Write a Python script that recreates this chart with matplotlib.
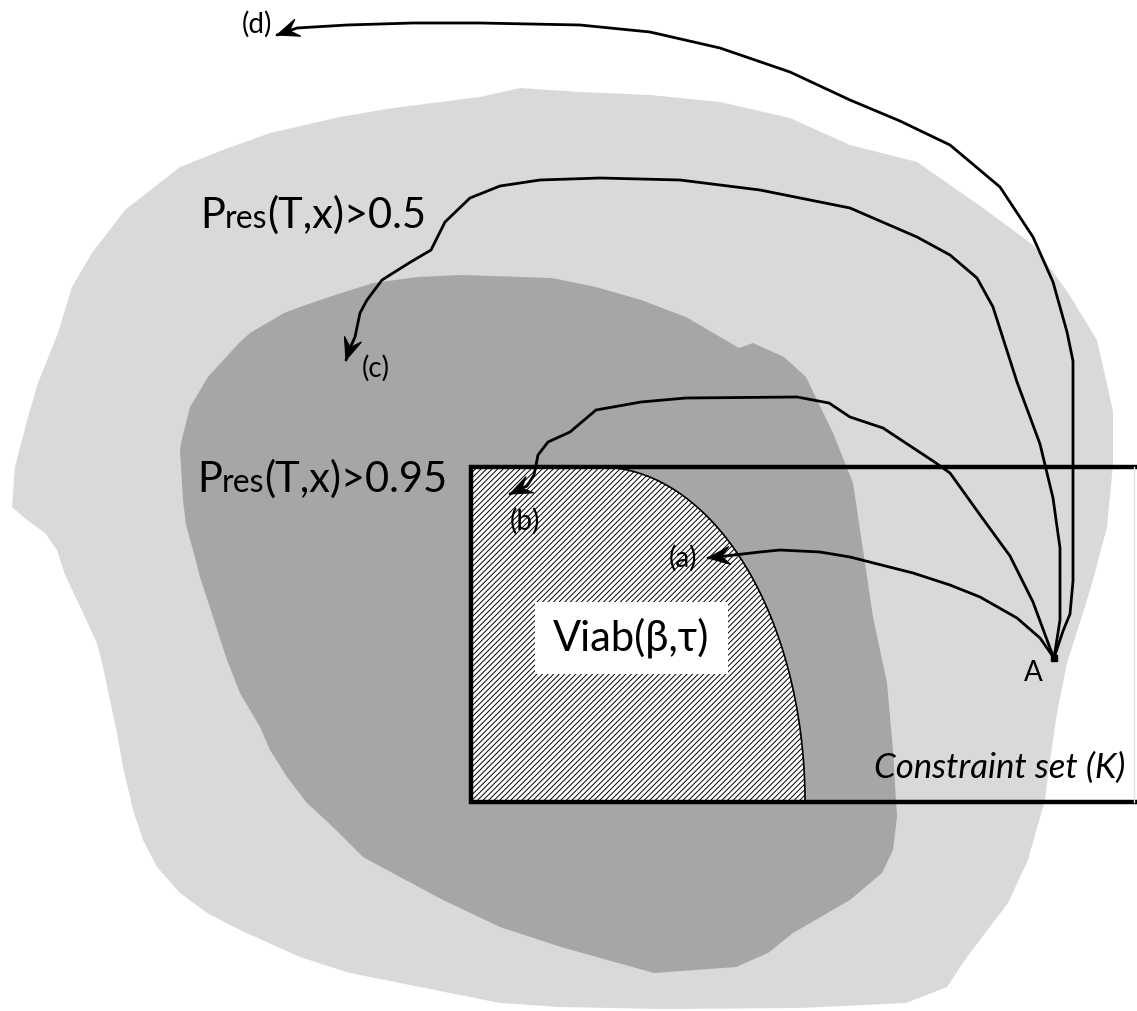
import matplotlib
matplotlib.use('Agg')
import matplotlib.pyplot as plt
import numpy as np
from matplotlib.patches import Polygon, Rectangle

W, H = 1137, 1011
FONT = ['Lato', 'DejaVu Sans']
plt.rcParams['font.family'] = FONT
plt.rcParams['hatch.linewidth'] = 0.7

# ---- region outlines (pixel coordinates of the diagram) ----
light_x = [520, 580, 650, 720, 790, 850, 917, 983, 1033, 1067, 1097, 1113, 1113, 1107, 1093, 1083,
           1067, 1057, 1050, 1045, 1035, 1028, 1008, 967, 947, 906, 800, 663, 560, 500, 450, 400,
           350, 300, 240, 207, 180, 157, 143, 133, 123, 117, 110, 103, 97, 77, 65, 57, 45, 27, 12,
           15, 28, 38, 58, 72, 92, 125, 180, 223, 270, 340, 393, 480]
light_y = [88, 92, 95, 102, 118, 145, 162, 208, 245, 291, 340, 411, 465, 527, 580, 613,
           663, 713, 760, 800, 835, 860, 903, 957, 987, 1003, 1008, 1009, 1007, 1003, 993, 983,
           973, 957, 930, 913, 893, 867, 840, 810, 767, 733, 700, 667, 643, 600, 575, 550, 533, 520, 507,
           467, 417, 383, 333, 287, 253, 210, 167, 150, 133, 117, 108, 97]

dark_x = [462, 552, 596, 641, 686, 739, 753, 784, 806, 833, 853, 863, 873, 887, 893, 897, 893,
          882, 850, 793, 768, 736, 654, 561, 500, 443, 400, 363, 333, 307, 287, 270, 260, 240,
          227, 213, 200, 193, 186, 183, 180, 181, 190, 208, 217, 239, 250, 284, 300, 329, 373, 418]
dark_y = [275, 278, 287, 300, 317, 348, 343, 357, 377, 433, 483, 550, 617, 683, 750, 817, 850,
          873, 900, 933, 953, 967, 973, 947, 927, 900, 877, 857, 827, 803, 777, 750, 727, 693,
          660, 617, 577, 550, 525, 500, 450, 443, 407, 377, 367, 343, 333, 313, 307, 297, 283, 277]

# constraint set K (open to the right)
K_left, K_top, K_bottom = 471, 467, 802
# viability kernel boundary: quarter ellipse
viab_cx, viab_cy, viab_a, viab_b = 600, 802, 205, 335

# trajectories from A
curve_a_x = [1054, 1040, 1017, 980, 950, 913, 850, 820, 780, 760, 708]
curve_a_y = [658, 638, 618, 597, 585, 573, 557, 552, 550, 552, 558]
curve_b_x = [1054, 1050, 1033, 1010, 983, 950, 933, 883, 850, 829, 797, 686, 641, 596, 570, 548, 538, 534, 527, 510]
curve_b_y = [658, 648, 602, 556, 519, 473, 461, 428, 417, 403, 397, 398, 402, 410, 432, 442, 455, 475, 486, 494]
curve_c_x = [1054, 1060, 1060, 1053, 1040, 1017, 993, 977, 950, 917, 850, 760, 680, 600, 540, 500, 470, 445,
             431, 409, 382, 367, 360, 355, 350, 346]
curve_c_y = [658, 620, 548, 498, 444, 382, 307, 278, 255, 237, 208, 190, 180, 178, 180, 186, 198, 222,
             250, 263, 280, 300, 313, 337, 348, 360]
curve_d_x = [1054, 1063, 1070, 1073, 1073, 1073, 1067, 1053, 1033, 1000, 950, 900, 850, 790, 720, 650, 580,
             480, 413, 347, 297, 277]
curve_d_y = [658, 631, 614, 581, 465, 361, 332, 282, 237, 187, 145, 121, 100, 72, 48, 32, 25,
             23, 23, 25, 28, 35]

point_A = (1054, 658)

fig = plt.figure(figsize=(W / 100, H / 100), dpi=100)
ax = fig.add_axes([0, 0, 1, 1])
ax.set_xlim(0, W)
ax.set_ylim(H, 0)
ax.axis('off')

ax.fill(light_x, light_y, color='#d9d9d9', lw=0, zorder=1)
ax.fill(dark_x, dark_y, color='#a6a6a6', lw=0, zorder=2)

# viab region
t = np.linspace(0, np.pi / 2, 120)
arc_x = viab_cx + viab_a * np.sin(t)
arc_y = viab_cy - viab_b * np.cos(t)
poly_x = np.concatenate([[K_left], arc_x, [K_left]])
poly_y = np.concatenate([[K_top], arc_y, [K_bottom]])
ax.add_patch(Polygon(np.column_stack([poly_x, poly_y]), closed=True, facecolor='white',
                     edgecolor='black', hatch='//////', lw=0, zorder=3))
ax.plot(arc_x, arc_y, color='black', lw=1.2, zorder=4)

# white label box
ax.add_patch(Rectangle((535, 602), 193, 72, facecolor='white', edgecolor='none', zorder=5))

# K rectangle
ax.plot([W + 5, K_left, K_left, W + 5], [K_top, K_top, K_bottom, K_bottom], color='black', lw=3.2,
        solid_joinstyle='miter', zorder=6)
ax.plot([1134, 1134], [K_top, K_bottom], color='#e2e2e2', lw=1, zorder=6)


def head(xs, ys, L=22, Wd=9):
    tip = np.array([xs[-1], ys[-1]], float)
    prev = np.array([xs[-2], ys[-2]], float)
    d = tip - prev
    d /= np.linalg.norm(d)
    n = np.array([-d[1], d[0]])
    pts = [tip, tip - L * d + Wd * n, tip - 0.6 * L * d, tip - L * d - Wd * n]
    ax.add_patch(Polygon(pts, closed=True, facecolor='black', edgecolor='black', lw=0.8, zorder=8))


for xs, ys in [(curve_a_x, curve_a_y), (curve_b_x, curve_b_y), (curve_c_x, curve_c_y), (curve_d_x, curve_d_y)]:
    ax.plot(xs, ys, color='black', lw=2.0, solid_joinstyle='round', solid_capstyle='round', zorder=7)
    head(xs, ys)

ax.plot([point_A[0]], [point_A[1]], marker='s', ms=5, color='black', zorder=9)

# labels
lab = dict(fontsize=20, ha='center', va='center', color='black', zorder=10)
ax.text(683, 558, '(a)', **lab)
ax.text(525, 521, '(b)', **lab)
ax.text(376, 368, '(c)', **lab)
ax.text(257, 24, '(d)', **lab)
ax.text(1033, 673, 'A', **lab)

ax.text(631, 650, 'Viab(β,τ)', fontsize=30, ha='center', va='baseline', zorder=10)
ax.text(1125, 778, 'Constraint set (K)', fontsize=25, style='italic', ha='right', va='baseline', zorder=10)

renderer = fig.canvas.get_renderer()


def rich(x, y, parts):
    for s, size in parts:
        tt = ax.text(x, y, s, fontsize=size, ha='left', va='baseline', zorder=10)
        x += tt.get_window_extent(renderer).width


rich(200, 228, [('P', 30), ('res', 23), ('(T,x)>0.5', 30)])
rich(197, 492, [('P', 30), ('res', 23), ('(T,x)>0.95', 30)])

fig.savefig('out.png', dpi=100)
